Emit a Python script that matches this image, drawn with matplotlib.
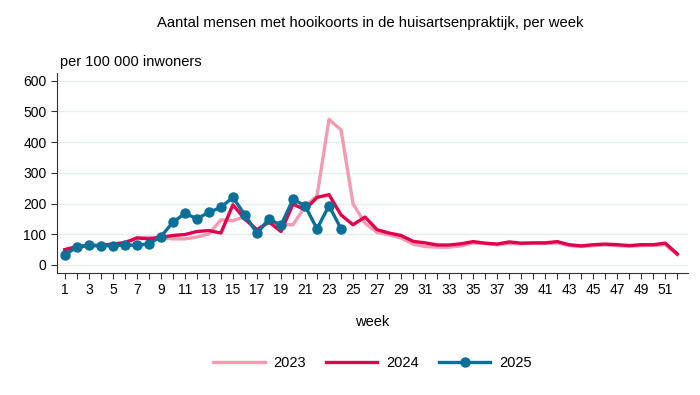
import matplotlib
matplotlib.use("Agg")
import matplotlib.pyplot as plt
from matplotlib.ticker import MultipleLocator

plt.rcParams['font.family'] = ['Liberation Sans', 'DejaVu Sans']

weeks_2023 = list(range(1, 53))
values_2023 = [44, 58, 62, 63, 65, 67, 88, 90, 88, 85, 85, 91, 101, 147, 144, 158, 109, 140, 131, 131,
               190, 225, 474, 440, 199, 136, 106, 98, 88, 68, 60, 58, 58, 62, 72, 70, 66, 70, 69, 70,
               70, 72, 63, 60, 63, 65, 63, 61, 63, 64, 66, 33]
weeks_2024 = list(range(1, 53))
values_2024 = [50, 60, 63, 64, 68, 73, 88, 85, 90, 96, 99, 109, 112, 104, 196, 149, 115, 140, 109, 198,
               180, 220, 229, 163, 131, 156, 115, 104, 96, 77, 72, 65, 65, 69, 76, 71, 68, 75, 71, 72,
               72, 76, 66, 62, 66, 68, 66, 63, 66, 66, 71, 36]
weeks_2025 = list(range(1, 25))
values_2025 = [33, 58, 65, 62, 63, 65, 64, 69, 92, 139, 168, 151, 171, 188, 220, 163, 103, 150, 129, 214,
               193, 118, 193, 118]

xtick_labels = [str(w) for w in range(1, 52, 2)]

fig = plt.figure(figsize=(7, 3.95), dpi=100)
ax = fig.add_axes([0.0814, 0.309, 0.9016, 0.506])

c23, c24, c25 = '#F39BB0', '#E0004D', '#0A7098'
ax.plot(weeks_2023, values_2023, color=c23, lw=2.4, label='2023', zorder=2)
ax.plot(weeks_2024, values_2024, color=c24, lw=2.4, label='2024', zorder=3)
ax.plot(weeks_2025, values_2025, color=c25, lw=2.4, marker='o', ms=6.5, label='2025', zorder=4)

ax.set_xlim(0.35, 52.9)
ax.set_ylim(-26, 625)
ax.set_yticks(range(0, 601, 100))
ax.set_xticks(range(1, 52, 2))
ax.set_xticklabels(xtick_labels)
ax.xaxis.set_minor_locator(MultipleLocator(1))
ax.tick_params(axis='both', labelsize=10, length=4, color='#333333', width=0.8)
ax.tick_params(axis='x', which='minor', length=4, color='#333333', width=0.8)
ax.grid(axis='y', color='#E6EFEF', lw=1)
ax.set_axisbelow(True)
for s in ['top', 'right']:
    ax.spines[s].set_visible(False)
for s in ['left', 'bottom']:
    ax.spines[s].set_color('#333333')
    ax.spines[s].set_linewidth(0.8)

ax.set_xlabel('week', fontsize=10.5, labelpad=13)
fig.text(0.529, 0.942, 'Aantal mensen met hooikoorts in de huisartsenpraktijk, per week',
         ha='center', va='center', fontsize=10.7)
fig.text(0.086, 0.843, 'per 100 000 inwoners', ha='left', va='center', fontsize=10.5)

ax.legend(loc='upper center', bbox_to_anchor=(0.5, -0.35), ncol=3, frameon=False,
          fontsize=10.5, handlelength=3.5, columnspacing=1.4, handletextpad=0.6)

fig.savefig('out.png', dpi=100)
